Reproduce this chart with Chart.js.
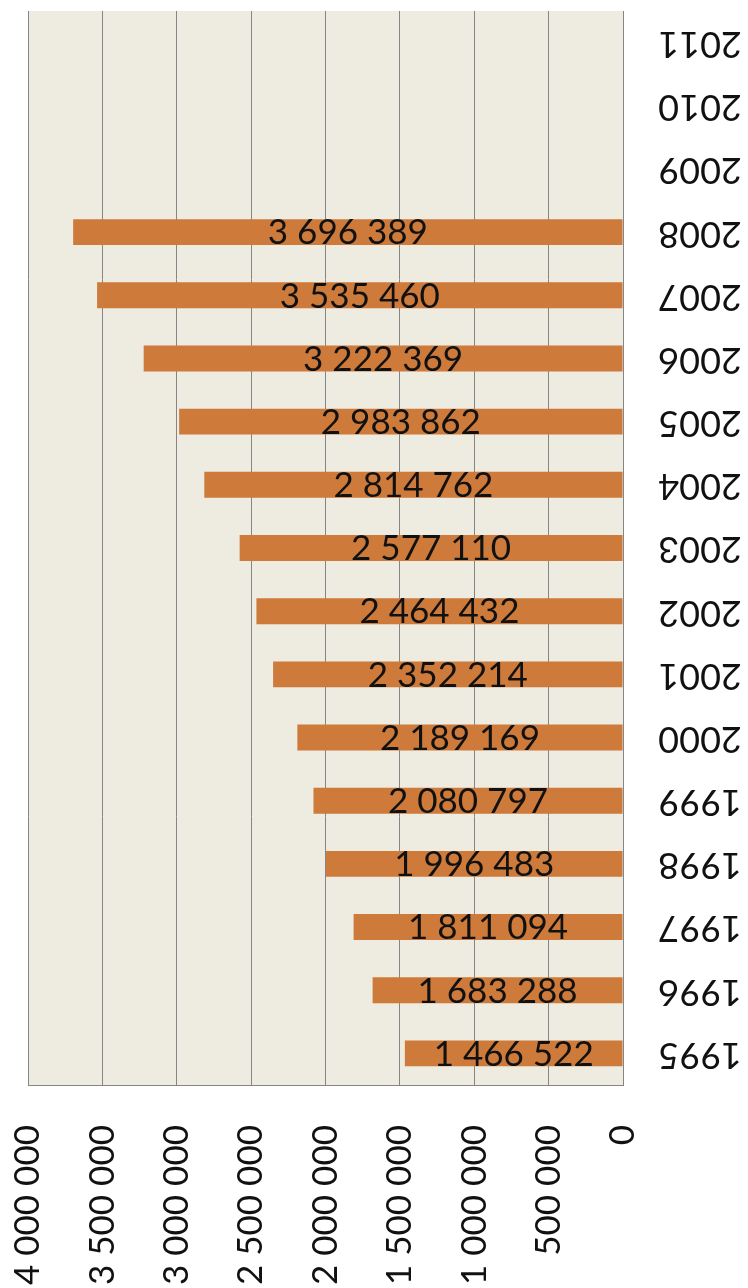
<!DOCTYPE html>
<html>
<head>
<meta charset="utf-8">
<script src="https://cdn.jsdelivr.net/npm/chart.js@4.4.1/dist/chart.umd.min.js"></script>
<style>
  html, body { margin: 0; background: #ffffff; }
  canvas { display: block; }
</style>
</head>
<body>
<canvas id="chart" width="748" height="1288"></canvas>
<script>
// data
const years = ['1995', '1996', '1997', '1998', '1999', '2000', '2001', '2002', '2003',
               '2004', '2005', '2006', '2007', '2008', '2009', '2010', '2011'];
const values = [1466522, 1683288, 1811094, 1996483, 2080797, 2189169, 2352214, 2464432, 2577110,
                2814762, 2983862, 3222369, 3535460, 3696389, null, null, null];
const xTicks = [0, 500000, 1000000, 1500000, 2000000, 2500000, 3000000, 3500000, 4000000];

const FONT = "Lato, 'Open Sans', sans-serif";
const fmt = n => String(n).replace(/\B(?=(\d{3})+(?!\d))/g, ' ');

// beige plot background
const plotBg = {
    id: 'plotBg',
    beforeDraw(chart) {
        const a = chart.chartArea;
        const ctx = chart.ctx;
        ctx.save();
        ctx.fillStyle = '#eeebe1';
        ctx.fillRect(a.left, a.top, a.right - a.left, a.bottom - a.top);
        ctx.restore();
    }
};

// value labels centred in the bars
const barLabels = {
    id: 'barLabels',
    afterDatasetsDraw(chart) {
        const ctx = chart.ctx;
        const meta = chart.getDatasetMeta(0);
        ctx.save();
        ctx.font = '35px ' + FONT;
        ctx.fillStyle = '#111111';
        ctx.textAlign = 'center';
        ctx.textBaseline = 'middle';
        meta.data.forEach((bar, i) => {
            const v = values[i];
            if (v == null) return;
            ctx.fillText(fmt(v), (bar.x + bar.base) / 2, bar.y + 1);
        });
        ctx.restore();
    }
};

// year labels, drawn upside down on the right
const yearLabels = {
    id: 'yearLabels',
    afterDraw(chart) {
        const ctx = chart.ctx;
        const yScale = chart.scales.y;
        ctx.save();
        ctx.font = '36px ' + FONT;
        ctx.fillStyle = '#111111';
        ctx.textAlign = 'center';
        ctx.textBaseline = 'middle';
        yScale.ticks.forEach((t, i) => {
            const y = yScale.getPixelForTick(i);
            ctx.save();
            ctx.translate(700, y);
            ctx.rotate(Math.PI);
            ctx.fillText(years[i], 0, -1);
            ctx.restore();
        });
        ctx.restore();
    }
};

new Chart(document.getElementById('chart'), {
    type: 'bar',
    data: {
        labels: years,
        datasets: [{
            data: values,
            backgroundColor: '#cd7a3a',
            barPercentage: 0.41,
            categoryPercentage: 1
        }]
    },
    options: {
        indexAxis: 'y',
        responsive: false,
        animation: false,
        layout: { padding: { left: 28, top: 11, right: 0, bottom: 0 } },
        plugins: {
            legend: { display: false },
            tooltip: { enabled: false }
        },
        scales: {
            x: {
                position: 'bottom',
                reverse: true,
                min: 0,
                max: 4000000,
                afterBuildTicks: scale => {
                    scale.ticks = xTicks.map(v => ({ value: v }));
                },
                afterFit: scale => { scale.height = 203; },
                grid: { color: '#858585', lineWidth: 1, drawTicks: false },
                border: { color: '#858585' },
                ticks: {
                    autoSkip: false,
                    maxRotation: 90,
                    minRotation: 90,
                    padding: 40,
                    color: '#111111',
                    font: { family: FONT, size: 35 },
                    callback: v => fmt(v)
                }
            },
            y: {
                position: 'right',
                reverse: true,
                afterFit: scale => { scale.width = 125; },
                grid: { display: false },
                border: { color: '#858585' },
                ticks: { display: false }
            }
        }
    },
    plugins: [plotBg, barLabels, yearLabels]
});
</script>
</body>
</html>
